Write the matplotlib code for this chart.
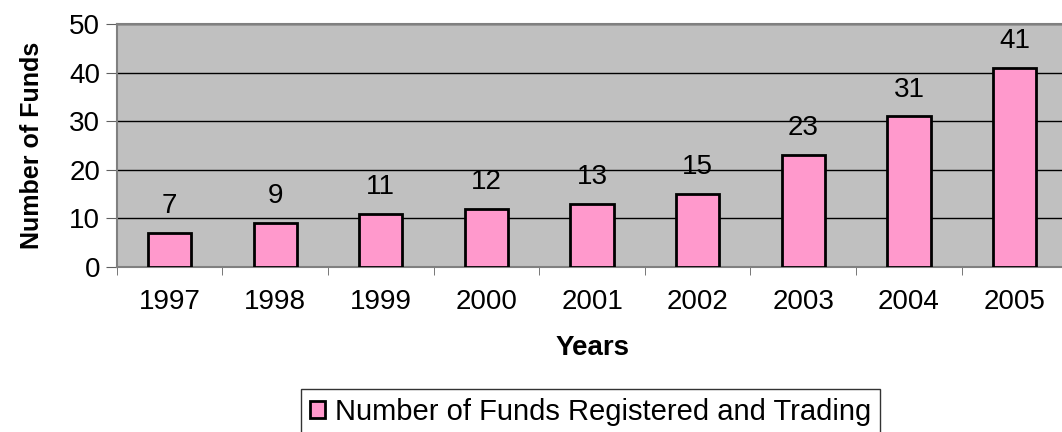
import matplotlib.pyplot as plt
import numpy as np

# data
years = ["1997", "1998", "1999", "2000", "2001", "2002", "2003", "2004", "2005"]
funds = [7, 9, 11, 12, 13, 15, 23, 31, 41]
legend_label = "Number of Funds Registered and Trading"

plt.rcParams['font.family'] = ['Liberation Sans', 'DejaVu Sans']

fig = plt.figure(figsize=(10.62, 4.32), dpi=100)
ax = fig.add_axes([0.110, 0.382, 0.895, 0.562])
ax.set_facecolor("#C0C0C0")

x = np.arange(len(years))
ax.bar(x, funds, width=0.41, color="#FF99CC", edgecolor="black",
       linewidth=2, label=legend_label, zorder=3)

for xi, v in zip(x, funds):
    ax.annotate(str(v), (xi, v), xytext=(0, 10), textcoords="offset points",
                ha="center", va="bottom", fontsize=20)

ax.set_xlim(-0.5, len(years) - 0.5)
ax.set_ylim(0, 50)
ax.set_yticks(range(0, 51, 10))
ax.yaxis.grid(True, color="black", linewidth=1)
ax.set_axisbelow(True)

ax.set_xticks(x)
ax.set_xticklabels(years, fontsize=20)
ax.set_xticks(np.arange(-0.5, len(years), 1), minor=True)
ax.tick_params(axis="x", which="major", length=0, pad=16)
ax.tick_params(axis="x", which="minor", length=6, color="#606060")
ax.tick_params(axis="y", labelsize=20, length=8, color="#606060", pad=4)

for s in ["top", "left", "bottom"]:
    ax.spines[s].set_color("#808080")
    ax.spines[s].set_linewidth(1.5)
ax.spines["right"].set_visible(False)

ax.set_xlabel("Years", fontsize=20, fontweight="bold", labelpad=14)
ax.set_ylabel("Number of Funds", fontsize=18, fontweight="bold", labelpad=18)

leg = fig.legend(loc="lower center", bbox_to_anchor=(0.556, -0.04), fontsize=21,
                 frameon=True, fancybox=False, edgecolor="black",
                 handlelength=0.5, handleheight=0.5, handletextpad=0.35,
                 borderpad=0.3)
leg.get_frame().set_linewidth(1)

fig.savefig("out.png", dpi=100)
